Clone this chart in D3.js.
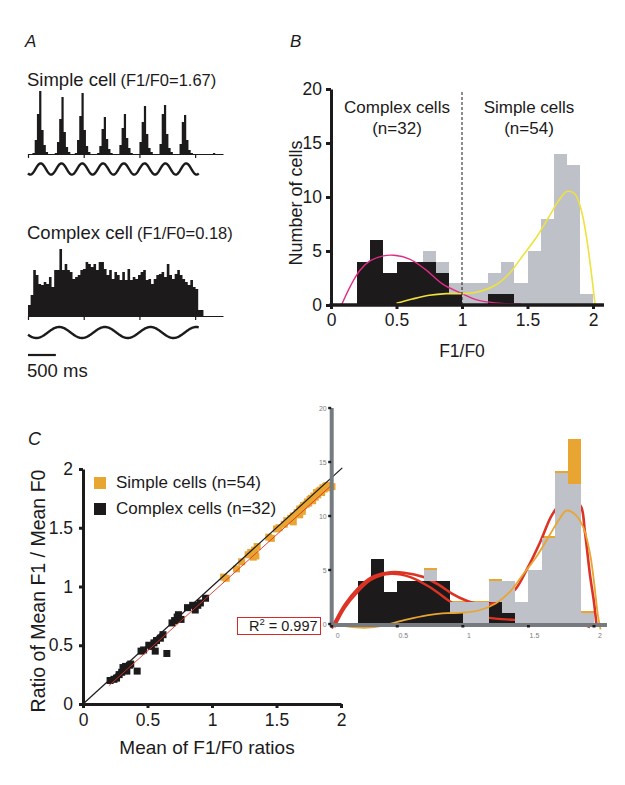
<!DOCTYPE html>
<html><head><meta charset="utf-8">
<script src="https://cdn.jsdelivr.net/npm/d3@7"></script>
<style>html,body{margin:0;padding:0;background:#fff;} svg{display:block;}</style>
</head><body>
<svg id="chart" width="625" height="785"></svg>
<script>
// ---------------- DATA ----------------
// Panel A: PSTHs (arbitrary count units), bin widths in ms
const simpleBinMs = 40;
const simpleCounts = [0,0,1,14,40,63,24,9,2,0, 0,0,1,12,35,57,22,7,2,0, 0,1,14,38,61,24,8,2,0,0,
  0,1,8,25,37,15,5,1,0,0, 0,9,26,40,16,6,1,0,0,0, 12,32,48,20,6,2,0,0,0,10, 40,49,20,6,2,0,0,0,10,32,
  39,14,4,1,0,0,0,0,0,0, 0,0,0,1,0];
const complexBinMs = 47;
const complexCounts = [11,21,46,41,32,31,34,32,39,29, 46,46,67,46,52,46,44,37,39,41, 46,47,54,52,49,52,46,54,54,47,
  41,46,37,44,41,36,44,36,47,36, 39,37,41,44,46,36,37,32,37,41, 42,44,39,52,41,37,42,46,41,37, 34,31,36,29,27,6,6];
const timeTicks = [0,1000,2000,3000];
const stimSimple = {periodMs: 373, firstPeakMs: 228, durationMs: 3065};
const stimComplex = {periodMs: 820, firstPeakMs: 560, durationMs: 3065};
const scaleBarMs = 500;

// Panel B: histogram of F1/F0 (bin left edges, width 0.1)
const binStarts = [0,0.1,0.2,0.3,0.4,0.5,0.6,0.7,0.8,0.9,1.0,1.1,1.2,1.3,1.4,1.5,1.6,1.7,1.8,1.9];
const bAllCells     = [0,0,4,6,3,4,4,5,4,2,2,2,3,4,2,5,8,14,13,1];
const bComplexCells = [0,0,4,6,3,4,4,4,3,1,0,0,1,1,0,0,0,0,0,0];
const complexFitB = [[0.08,0],[0.15,1.8],[0.22,3.2],[0.3,4.1],[0.4,4.55],[0.48,4.6],[0.6,4.25],[0.72,3.3],[0.85,1.95],[1.0,1.05],[1.12,0.45],[1.25,0.2],[1.45,0.1]];
const simpleFitB = [[0.5,0.15],[0.62,0.55],[0.75,0.9],[0.88,1.05],[1.0,1.05],[1.12,1.2],[1.25,1.8],[1.36,2.9],[1.46,4.5],[1.57,6.3],[1.67,8.3],[1.74,9.7],[1.8,10.5],[1.86,10.3],[1.91,8.8],[1.95,6.3],[1.985,3.2],[2.015,0.1]];
const axisTicksB = [0,0.5,1,1.5,2];
const countTicks = [0,5,10,15,20];

// Panel C: scatter
const complexPts = [[0.21,0.20],[0.24,0.21],[0.26,0.22],[0.28,0.25],[0.30,0.27],[0.31,0.31],[0.33,0.32],[0.34,0.28],[0.36,0.33],[0.37,0.34],
  [0.42,0.28],[0.45,0.45],[0.47,0.46],[0.51,0.50],[0.53,0.49],[0.56,0.45],[0.57,0.54],[0.60,0.56],[0.62,0.59],[0.65,0.43],
  [0.69,0.69],[0.71,0.71],[0.74,0.76],[0.76,0.72],[0.81,0.82],[0.85,0.84],[0.87,0.80],[0.89,0.84],[0.91,0.86],[0.95,0.90],[0.73,0.74],[0.55,0.52]];
const simplePts = [[1.09,1.08],[1.11,1.07],[1.19,1.15],[1.23,1.21],[1.28,1.27],[1.30,1.29],[1.32,1.25],[1.34,1.26],[1.35,1.34],[1.33,1.31],
  [1.44,1.42],[1.46,1.41],[1.50,1.49],[1.52,1.50],[1.56,1.53],[1.58,1.56],[1.61,1.58],[1.63,1.55],[1.63,1.60],[1.66,1.63],
  [1.68,1.61],[1.68,1.66],[1.70,1.67],[1.71,1.69],[1.73,1.70],[1.74,1.72],[1.75,1.71],[1.76,1.74],[1.77,1.75],[1.78,1.73],
  [1.79,1.77],[1.80,1.76],[1.81,1.80],[1.82,1.78],[1.83,1.81],[1.84,1.82],[1.85,1.80],[1.86,1.84],[1.87,1.83],[1.88,1.85],
  [1.89,1.86],[1.90,1.84],[1.93,1.85],[1.70,1.64]];
const identityLine = [[0,0],[2.01,2.01]];
const regressionLine = [[0.2,0.155],[1.92,1.855]];
const ratioTicks = [0,0.5,1,1.5,2];
const r2Value = "0.997";

// Panel C inset histogram
const cAllCells     = [0,0,4,6,3,4,4,5,4,2,2,2,4,4,2,5,8,14,13,1];
const cComplexCells = [0,0,4,6,3,4,4,4,4,1,0,0,2,1,0,0,0,0,0,0];
const cSimpleAlt    = [0,0,0,0,0,0,0,5.15,0,2.15,2.15,2.15,4.15,0,0,0,8.15,14.15,17.1,1.2];
const complexFitC = [[0.02,-0.3],[0.1,1.5],[0.2,3.0],[0.3,4.1],[0.45,4.65],[0.6,4.35],[0.75,3.4],[0.9,2.1],[1.0,1.3],[1.1,0.8],[1.25,0.5],[1.45,0.35],[1.65,0.25],[1.85,0.15],[1.97,-0.3]];
const totalFitC = [[0.0,-0.4],[0.1,1.8],[0.2,3.3],[0.3,4.3],[0.42,4.75],[0.55,4.75],[0.7,4.35],[0.82,3.6],[0.92,2.8],[1.02,2.2],[1.12,1.85],[1.22,1.9],[1.31,2.4],[1.4,3.2],[1.49,5.1],[1.59,7.6],[1.68,10.1],[1.76,11.3],[1.84,11.5],[1.9,10.9],[1.93,8.6],[1.97,4.5],[2.0,2.0],[2.02,-0.2]];
const simpleFitC = [[0.1,-0.2],[0.25,-0.35],[0.4,-0.15],[0.5,0.2],[0.62,0.55],[0.75,0.85],[0.88,1.0],[1.0,1.05],[1.12,1.25],[1.25,1.9],[1.36,3.0],[1.46,4.6],[1.57,6.4],[1.67,8.4],[1.74,9.8],[1.79,10.5],[1.86,10.1],[1.92,8.9],[1.97,6.5],[2.0,3.9],[2.03,0.8],[2.05,-0.5]];

// ---------------- DRAWING ----------------
const svg = d3.select("#chart");
const FONT = "'Liberation Sans', Arial, Helvetica, sans-serif";
const BLACK="#1c1a1b", GRAY="#bec1c8", MAGENTA="#e02c86", YELLOW="#eee23c", ORANGE="#e9a531", RED="#dd3325", AXGRAY="#767b82";
svg.append("rect").attr("width",625).attr("height",785).attr("fill","#fff");

function text(x, y, s, size, o = {}) {
  const t = svg.append("text").attr("x", x).attr("y", y).attr("font-family", FONT)
    .attr("font-size", size).attr("fill", o.fill || BLACK).text(s);
  if (o.anchor) t.attr("text-anchor", o.anchor);
  if (o.italic) t.attr("font-style", "italic");
  return t;
}

// ===== Panel A =====
text(25, 47, "A", 17, {italic:true});
const xA = d3.scaleLinear().domain([0,3500]).range([28,223]);
const ySimple = d3.scaleLinear().domain([0,70]).range([154,84]);
const yComplex = d3.scaleLinear().domain([0,70]).range([316,246]);

function psth(counts, binMs, y) {
  const pts = counts.map((c,i) => [i*binMs, c]).concat([[counts.length*binMs, counts[counts.length-1]]]);
  const area = d3.area().x(d => xA(d[0])).y0(y(0)).y1(d => y(d[1])).curve(d3.curveStepAfter);
  svg.append("path").attr("d", area(pts)).attr("fill", BLACK);
  const ax = svg.append("g").attr("transform", `translate(0,${y(0)})`)
    .call(d3.axisBottom(xA).tickValues(timeTicks).tickSize(4).tickSizeOuter(0).tickFormat(""));
  ax.selectAll("path,line").attr("stroke", BLACK).attr("stroke-width", 1.2);
}
function stim(st, cy, amp) {
  const ts = d3.range(0, st.durationMs + 1, 8);
  const line = d3.line().x(t => xA(t))
    .y(t => cy - amp * Math.cos(2 * Math.PI * (t - st.firstPeakMs) / st.periodMs));
  svg.append("path").attr("d", line(ts)).attr("fill", "none")
    .attr("stroke", BLACK).attr("stroke-width", 2.4);
}

const t1 = text(27, 85.5, "Simple cell", 18.5);
t1.append("tspan").attr("dx", 4).attr("font-size", 16.5).text("(F1/F0=1.67)");
psth(simpleCounts, simpleBinMs, ySimple);
stim(stimSimple, 169, 5.6);

const t2 = text(27, 239, "Complex cell", 18.5);
t2.append("tspan").attr("dx", 4).attr("font-size", 16.5).text("(F1/F0=0.18)");
psth(complexCounts, complexBinMs, yComplex);
stim(stimComplex, 332.5, 5.5);

svg.append("line").attr("x1", xA(0)).attr("x2", xA(scaleBarMs)).attr("y1", 355).attr("y2", 355)
  .attr("stroke", BLACK).attr("stroke-width", 2.2);
text(27, 376.5, "500 ms", 18.5);

// ===== Panel B =====
text(290, 47, "B", 17, {italic:true});
const xB = d3.scaleLinear().domain([0,2]).range([331,593]);
const yB = d3.scaleLinear().domain([0,20]).range([305,89]);
const bwB = xB(0.1) - xB(0);

function bars(values, xs, ys, bw, fill, base) {
  svg.append("g").attr("shape-rendering", "crispEdges").selectAll("rect").data(binStarts).join("rect")
    .attr("x", d => Math.round(xs(d))).attr("width", d => Math.round(xs(d + 0.1)) - Math.round(xs(d)))
    .attr("y", (d,i) => ys(values[i]))
    .attr("height", (d,i) => Math.max(0, (base ? ys(base[i]) : ys(0)) - ys(values[i])))
    .attr("fill", fill);
}
bars(bAllCells, xB, yB, bwB, GRAY);
bars(bComplexCells, xB, yB, bwB, BLACK);

const lineB = d3.line().x(d => xB(d[0])).y(d => yB(d[1])).curve(d3.curveCatmullRom.alpha(0.5));
svg.append("path").attr("d", lineB(complexFitB)).attr("fill","none").attr("stroke", MAGENTA).attr("stroke-width", 1.4);
svg.append("path").attr("d", lineB(simpleFitB)).attr("fill","none").attr("stroke", YELLOW).attr("stroke-width", 1.6);

svg.append("line").attr("x1", xB(1)).attr("x2", xB(1)).attr("y1", yB(0)).attr("y2", yB(20) + 1)
  .attr("stroke", BLACK).attr("stroke-width", 1).attr("stroke-dasharray", "3,2");

const axYB = svg.append("g").attr("transform", `translate(${xB(0)},0)`)
  .call(d3.axisLeft(yB).tickValues(countTicks).tickSize(5).tickSizeOuter(0).tickPadding(4));
axYB.selectAll("path,line").attr("stroke", BLACK).attr("stroke-width", 3);
axYB.selectAll("text").attr("font-family", FONT).attr("font-size", 17.5).attr("fill", BLACK);

const axXB = svg.append("g").attr("transform", `translate(0,${yB(0)})`)
  .call(d3.axisBottom(xB).tickValues(axisTicksB).tickSize(4).tickSizeOuter(0).tickPadding(5).tickFormat(d => d));
axXB.select("path").remove();
axXB.selectAll("line").attr("stroke", BLACK).attr("stroke-width", 3);
axXB.selectAll("text").attr("font-family", FONT).attr("font-size", 17.5).attr("fill", BLACK);
svg.append("line").attr("x1", xB(0) - 1.5).attr("x2", 604).attr("y1", yB(0)).attr("y2", yB(0))
  .attr("stroke", BLACK).attr("stroke-width", 3.5);

text(397, 113, "Complex cells", 17, {anchor:"middle"});
text(397, 134, "(n=32)", 17, {anchor:"middle"});
text(529, 113, "Simple cells", 17, {anchor:"middle"});
text(529, 134, "(n=54)", 17, {anchor:"middle"});
text(0, 0, "Number of cells", 18, {anchor:"middle"}).attr("transform", "translate(302,203) rotate(-90)");
text(462, 357, "F1/F0", 17.5, {anchor:"middle"});

// ===== Panel C =====
text(28, 445, "C", 18, {italic:true});
const xC = d3.scaleLinear().domain([0,2]).range([83,341]);
const yC = d3.scaleLinear().domain([0,2]).range([704,469]);
const sq = 7;

svg.append("g").selectAll("rect").data(complexPts).join("rect")
  .attr("x", d => xC(d[0]) - sq/2).attr("y", d => yC(d[1]) - sq/2)
  .attr("width", sq).attr("height", sq).attr("fill", BLACK);
svg.append("g").selectAll("rect").data(simplePts).join("rect")
  .attr("x", d => xC(d[0]) - sq/2).attr("y", d => yC(d[1]) - sq/2)
  .attr("width", sq).attr("height", sq).attr("fill", ORANGE);

const lineC = d3.line().x(d => xC(d[0])).y(d => yC(d[1]));
svg.append("path").attr("d", lineC(identityLine)).attr("stroke", BLACK).attr("stroke-width", 1.2).attr("fill","none");
svg.append("path").attr("d", lineC(regressionLine)).attr("stroke", RED).attr("stroke-width", 0.9).attr("fill","none");

const axYC = svg.append("g").attr("transform", `translate(${xC(0)},0)`)
  .call(d3.axisLeft(yC).tickValues(ratioTicks).tickSize(4).tickSizeOuter(0).tickPadding(6).tickFormat(d => d));
axYC.selectAll("path,line").attr("stroke", BLACK).attr("stroke-width", 3);
axYC.selectAll("text").attr("font-family", FONT).attr("font-size", 17.5).attr("fill", BLACK);
const axXC = svg.append("g").attr("transform", `translate(0,${yC(0)})`)
  .call(d3.axisBottom(xC).tickValues(ratioTicks).tickSize(4).tickSizeOuter(0).tickPadding(6).tickFormat(d => d));
axXC.selectAll("path,line").attr("stroke", BLACK).attr("stroke-width", 3);
axXC.selectAll("text").attr("font-family", FONT).attr("font-size", 17.5).attr("fill", BLACK);

svg.append("rect").attr("x", 94).attr("y", 477).attr("width", 12).attr("height", 12).attr("fill", ORANGE);
text(116, 488, "Simple cells (n=54)", 17);
svg.append("rect").attr("x", 94).attr("y", 503).attr("width", 12).attr("height", 12).attr("fill", BLACK);
text(116, 514, "Complex cells (n=32)", 17);

text(0, 0, "Ratio of Mean F1 / Mean F0", 19.5, {anchor:"middle"}).attr("transform", "translate(45,591) rotate(-90)");
text(207, 754, "Mean of F1/F0 ratios", 19, {anchor:"middle"});

svg.append("rect").attr("x", 237.5).attr("y", 617.5).attr("width", 83).attr("height", 17)
  .attr("fill", "#fff").attr("stroke", "#d42a2a").attr("stroke-width", 1);
const r2 = text(249, 631, "R", 14.5);
r2.append("tspan").attr("dy", -6).attr("font-size", 9.5).text("2");
r2.append("tspan").attr("dy", 6).attr("dx", 4).text("= " + r2Value);

// ===== Inset =====
const xI = d3.scaleLinear().domain([0,2]).range([331.7,594]);
const yI = d3.scaleLinear().domain([0,20]).range([624,408]);
const bwI = xI(0.1) - xI(0);

bars(cSimpleAlt, xI, yI, bwI, ORANGE);
bars(cComplexCells, xI, yI, bwI, BLACK);
const lineI = d3.line().x(d => xI(d[0])).y(d => yI(d[1])).curve(d3.curveCatmullRom.alpha(0.5));
svg.append("path").attr("d", lineI(complexFitC)).attr("fill","none").attr("stroke", RED).attr("stroke-width", 2.4);
svg.append("path").attr("d", lineI(totalFitC)).attr("fill","none").attr("stroke", RED).attr("stroke-width", 2.6);
bars(cAllCells, xI, yI, bwI, GRAY, cComplexCells);
svg.append("path").attr("d", lineI(simpleFitC)).attr("fill","none").attr("stroke", ORANGE).attr("stroke-width", 1.8);

svg.append("line").attr("x1", xI(0)).attr("x2", xI(0)).attr("y1", yI(20)).attr("y2", yI(0) + 3)
  .attr("stroke", AXGRAY).attr("stroke-width", 4);
svg.append("line").attr("x1", xI(0) - 2).attr("x2", 607).attr("y1", yI(0) + 1).attr("y2", yI(0) + 1)
  .attr("stroke", AXGRAY).attr("stroke-width", 4);
svg.append("g").selectAll("rect").data(countTicks).join("rect")
  .attr("x", xI(0) - 3.5).attr("y", d => yI(d) - 1.2).attr("width", 3).attr("height", 2.4).attr("fill", BLACK);
svg.append("g").selectAll("rect").data(axisTicksB).join("rect")
  .attr("x", d => xI(d) - 1.5).attr("y", yI(0) + 1).attr("width", 3).attr("height", 2.5).attr("fill", BLACK);
svg.append("g").selectAll("text").data(countTicks).join("text")
  .attr("x", xI(0) - 5).attr("y", d => yI(d) + 2.5).attr("text-anchor", "end")
  .attr("font-family", FONT).attr("font-size", 7).attr("fill", "#7d7d7d").text(d => d);
svg.append("g").selectAll("text").data(axisTicksB).join("text")
  .attr("x", d => xI(d) + 6).attr("y", 638).attr("text-anchor", "middle")
  .attr("font-family", FONT).attr("font-size", 7).attr("fill", "#7d7d7d").text(d => d);
</script></body></html>
